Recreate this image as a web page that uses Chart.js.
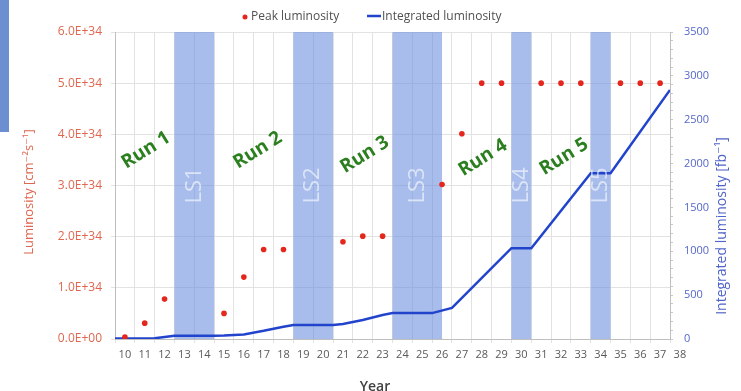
<!DOCTYPE html>
<html>
<head>
<meta charset="utf-8">
<script src="https://cdn.jsdelivr.net/npm/chart.js@4.4.1/dist/chart.umd.min.js"></script>
<style>
  html, body { margin: 0; padding: 0; background: #fff; }
  #wrap { position: relative; width: 741px; height: 391px; overflow: hidden; }
  #lumiChart { display: block; }
  #tab { position: absolute; left: 0; top: 0; width: 9px; height: 132px; background: #6b8fd0; }
</style>
</head>
<body>
<div id="wrap">
  <canvas id="lumiChart" width="741" height="391"></canvas>
  <div id="tab"></div>
</div>
<script>
// x axis labels (years 20xx)
const yearLabels = [10, 11, 12, 13, 14, 15, 16, 17, 18, 19, 20, 21, 22, 23, 24, 25, 26, 27, 28, 29, 30, 31, 32, 33, 34, 35, 36, 37, 38];

// peak luminosity, in units of 1E+34 cm-2 s-1
const peakYears = [10, 11, 12, 15, 16, 17, 18, 21, 22, 23, 26, 27, 28, 29, 31, 32, 33, 35, 36, 37];
const peakLumi  = [0.04, 0.31, 0.78, 0.50, 1.21, 1.75, 1.75, 1.90, 2.01, 2.01, 3.02, 4.01, 5.0, 5.0, 5.0, 5.0, 5.0, 5.0, 5.0, 5.0];

// integrated luminosity, fb-1
const intYears = [9.5, 11.5, 12.5, 14.5, 15, 16, 17, 18, 18.5, 20.5, 21, 22, 23, 23.5, 25.5, 26.5, 29.5, 30.5, 33.5, 34.5, 37.5];
const intLumi  = [5, 8, 38, 38, 40, 52, 93, 140, 160, 160, 171, 217, 274, 295, 295, 355, 1035, 1035, 1889, 1889, 2840];

const leftTickLabels  = ['0.0E+00', '1.0E+34', '2.0E+34', '3.0E+34', '4.0E+34', '5.0E+34', '6.0E+34'];
const rightTickLabels = ['0', '500', '1000', '1500', '2000', '2500', '3000', '3500'];

// long shutdowns: name, from, to (years)
const shutdowns = [
  ['LS1', 12.5, 14.5],
  ['LS2', 18.5, 20.5],
  ['LS3', 23.5, 26.0],
  ['LS4', 29.5, 30.5],
  ['LS5', 33.5, 34.5]
];

// run labels: text, year, luminosity (1E+34)
const runs = [
  ['Run 1', 11.06, 3.69],
  ['Run 2', 16.7, 3.69],
  ['Run 3', 22.1, 3.6],
  ['Run 4', 28.06, 3.54],
  ['Run 5', 32.15, 3.56]
];

const FONT = '"Open Sans", "DejaVu Sans", sans-serif';

const decor = {
  id: 'decor',
  beforeDatasetsDraw(chart) {
    const { ctx, chartArea: a, scales: { x } } = chart;
    ctx.save();
    ctx.fillStyle = 'rgba(110,145,222,0.6)';
    shutdowns.forEach(([name, from, to]) => {
      const x0 = x.getPixelForValue(from), x1 = x.getPixelForValue(to);
      ctx.fillRect(x0, a.top, x1 - x0, a.bottom - a.top);
    });
    ctx.restore();
  },
  afterDatasetsDraw(chart) {
    const { ctx, scales: { x, y } } = chart;
    ctx.save();
    ctx.textAlign = 'center';
    ctx.textBaseline = 'middle';

    // shutdown names inside the bands
    ctx.font = '22px ' + FONT;
    ctx.fillStyle = 'rgba(255,255,255,0.6)';
    shutdowns.forEach(([name, from, to]) => {
      ctx.save();
      ctx.translate(x.getPixelForValue((from + to) / 2), y.getPixelForValue(3.0));
      ctx.rotate(-Math.PI / 2);
      ctx.fillText(name, 0, 0);
      ctx.restore();
    });

    // run names
    ctx.font = 'bold 19px ' + FONT;
    ctx.fillStyle = '#2b7f1f';
    runs.forEach(([name, yr, v]) => {
      ctx.save();
      ctx.translate(x.getPixelForValue(yr), y.getPixelForValue(v));
      ctx.rotate(-32 * Math.PI / 180);
      ctx.fillText(name, 0, 0);
      ctx.restore();
    });

    // axis titles
    ctx.font = '13px ' + FONT;
    ctx.fillStyle = '#e0664f';
    ctx.save();
    ctx.translate(29, 192);
    ctx.rotate(-Math.PI / 2);
    ctx.fillText('Luminosity [cm\u207B\u00B2s\u207B\u00B9]', 0, 0);
    ctx.restore();

    ctx.font = '14px ' + FONT;
    ctx.fillStyle = '#4f63c8';
    ctx.save();
    ctx.translate(722, 226);
    ctx.rotate(-Math.PI / 2);
    ctx.fillText('Integrated luminosity [fb\u207B\u00B9]', 0, 0);
    ctx.restore();

    ctx.font = '600 14px ' + FONT;
    ctx.fillStyle = '#404040';
    ctx.textBaseline = 'alphabetic';
    ctx.fillText('Year', 375, 391);

    // legend
    ctx.textAlign = 'left';
    ctx.textBaseline = 'middle';
    ctx.font = '12px ' + FONT;
    ctx.fillStyle = '#e4261c';
    ctx.beginPath();
    ctx.arc(245, 17, 2.5, 0, Math.PI * 2);
    ctx.fill();
    ctx.fillStyle = '#505050';
    ctx.fillText('Peak luminosity', 251, 17);
    ctx.strokeStyle = '#2244cc';
    ctx.lineWidth = 2.5;
    ctx.beginPath();
    ctx.moveTo(367, 16);
    ctx.lineTo(381, 16);
    ctx.stroke();
    ctx.fillText('Integrated luminosity', 382, 17);

    ctx.restore();
  }
};

new Chart('lumiChart', {
  type: 'scatter',
  data: {
    datasets: [
      {
        label: 'Peak luminosity',
        type: 'scatter',
        data: peakYears.map((yr, i) => ({ x: yr, y: peakLumi[i] })),
        backgroundColor: '#e4261c',
        borderWidth: 0,
        pointRadius: 2.8,
        yAxisID: 'y'
      },
      {
        label: 'Integrated luminosity',
        type: 'line',
        data: intYears.map((yr, i) => ({ x: yr, y: intLumi[i] })),
        borderColor: '#2244cc',
        borderWidth: 2.5,
        pointRadius: 0,
        tension: 0,
        fill: false,
        yAxisID: 'y2'
      }
    ]
  },
  options: {
    responsive: false,
    animation: false,
    layout: { padding: { top: 32, left: 0, right: 0, bottom: 0 }, autoPadding: false },
    plugins: {
      legend: { display: false },
      tooltip: { enabled: false }
    },
    scales: {
      x: {
        type: 'linear',
        min: 9.5,
        max: 37.5,
        afterBuildTicks: (s) => {
          const t = [];
          for (let v = 9.5; v <= 37.5; v += 1) t.push({ value: v });
          yearLabels.forEach(v => t.push({ value: v }));
          t.sort((a, b) => a.value - b.value);
          s.ticks = t;
        },
        afterFit: (s) => { s.height = 52; },
        ticks: {
          autoSkip: false,
          maxRotation: 0,
          padding: 5,
          color: '#595959',
          font: { size: 11, family: FONT },
          callback: (v) => yearLabels.includes(v) ? String(v) : ''
        },
        grid: {
          color: (c) => (c.tick && Number.isInteger(c.tick.value)) ? 'rgba(0,0,0,0)' : '#e2e2e2',
          tickLength: 4
        },
        border: { color: '#bfbfbf' }
      },
      y: {
        position: 'left',
        min: 0,
        max: 6,
        afterFit: (s) => { s.width = 115; },
        ticks: {
          stepSize: 1,
          padding: 9,
          color: '#e0664f',
          font: { size: 12, family: FONT },
          callback: (v, i) => leftTickLabels[i]
        },
        grid: { color: '#e2e2e2', tickLength: 4 },
        border: { color: '#bfbfbf' }
      },
      y2: {
        position: 'right',
        min: 0,
        max: 3500,
        afterFit: (s) => { s.width = 71; },
        ticks: {
          stepSize: 100,
          autoSkip: false,
          padding: 11,
          color: '#5567c9',
          font: { size: 11, family: FONT },
          callback: (v) => v % 500 === 0 ? rightTickLabels[v / 500] : ''
        },
        grid: { drawOnChartArea: false, tickLength: 3, color: '#c8c8c8' },
        border: { color: '#bfbfbf' }
      }
    }
  },
  plugins: [decor]
});
</script>
</body>
</html>
